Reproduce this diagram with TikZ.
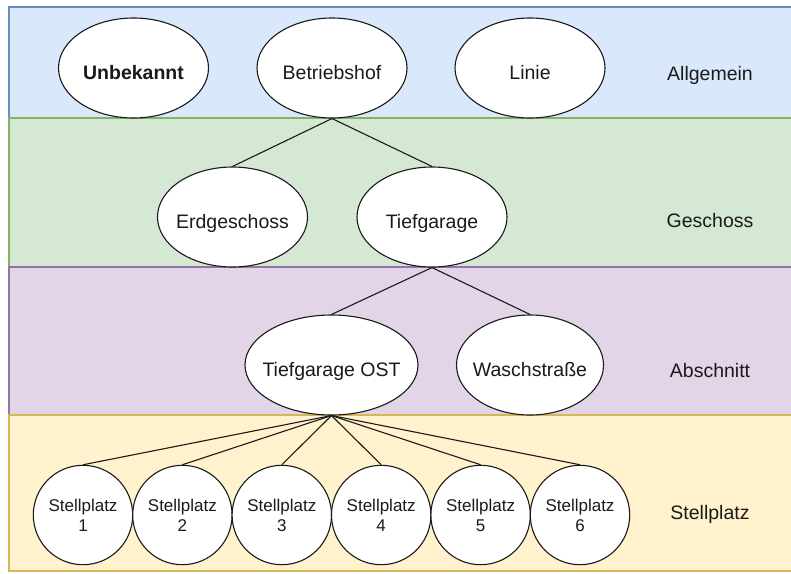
\documentclass[tikz,border=0pt]{standalone}
\usepackage{fontspec}
\setmainfont{Liberation Sans}
\usetikzlibrary{shapes.geometric}

\definecolor{blueFill}{HTML}{DAE8FC}
\definecolor{blueLine}{HTML}{6C8EBF}
\definecolor{greenFill}{HTML}{D5E8D4}
\definecolor{greenLine}{HTML}{82B366}
\definecolor{purpleFill}{HTML}{E1D5E7}
\definecolor{purpleLine}{HTML}{9673A6}
\definecolor{yellowFill}{HTML}{FFF2CC}
\definecolor{yellowLine}{HTML}{D6B656}
\definecolor{ink}{HTML}{1A1A1A}

\newcommand{\zw}[1]{\makebox[0pt][c]{#1}}

\begin{document}
\begin{tikzpicture}[x=1pt, y=-1pt,
  band/.style={line width=1.2pt},
  entity/.style={ellipse, draw=ink, fill=white, line width=1.1pt, inner sep=0pt,
    minimum width=150pt, minimum height=100pt, text height=22pt, text depth=0pt,
    font=\fontsize{19.5}{23}\selectfont, text=ink},
  spot/.style={circle, draw=ink, fill=white, line width=1.1pt, inner sep=0pt,
    minimum size=99.4pt, align=center, font=\fontsize{17}{21}\selectfont, text=ink},
  level/.style={anchor=base, font=\fontsize{19.5}{23}\selectfont, text=ink},
  link/.style={draw=ink, line width=1.1pt}
]
\useasboundingbox (0,0) rectangle (791,573);

% horizontal bands, one per hierarchy level
\draw[band, fill=blueFill, draw=blueLine]     (9,7)   rectangle (793,118);
\draw[band, fill=greenFill, draw=greenLine]   (9,118) rectangle (793,267);
\draw[band, fill=purpleFill, draw=purpleLine] (9,267) rectangle (793,415);
\draw[band, fill=yellowFill, draw=yellowLine] (9,415) rectangle (793,571);

% level names
\node[level] (lAll) at (710,80)  {Allgemein};
\node[level] (lGes) at (710,227) {Geschoss};
\node[level] (lAbs) at (710,377) {Abschnitt};
\node[level] (lSte) at (710,519) {Stellplatz};

% top level
\node[entity] (unb) at (133.5,68) {\zw{\bfseries Unbekannt}};
\node[entity] (bhf) at (332,68)   {\zw{Betriebshof}};
\node[entity] (lin) at (530,68)   {\zw{Linie}};

% floors
\node[entity] (erd) at (232.5,217) {\zw{Erdgeschoss}};
\node[entity] (tg)  at (432,217)   {\zw{Tiefgarage}};

% sections
\node[entity, minimum width=173pt] (tgo) at (331.5,365) {\zw{Tiefgarage OST}};
\node[entity, minimum width=147pt] (wsch) at (530,365)  {\zw{Waschstraße}};

% parking spots
\foreach \i in {1,...,6} {
  \node[spot] (s\i) at ({83+99.4*(\i-1)},515) {Stellplatz\\[-1pt]\i};
}

% hierarchy links
\draw[link] (bhf.south) -- (erd.north);
\draw[link] (bhf.south) -- (tg.north);
\draw[link] (tg.south) -- (tgo.north);
\draw[link] (tg.south) -- (wsch.north);
\foreach \i in {1,...,6} {
  \draw[link] (tgo.south) -- (s\i.north);
}
\end{tikzpicture}
\end{document}
